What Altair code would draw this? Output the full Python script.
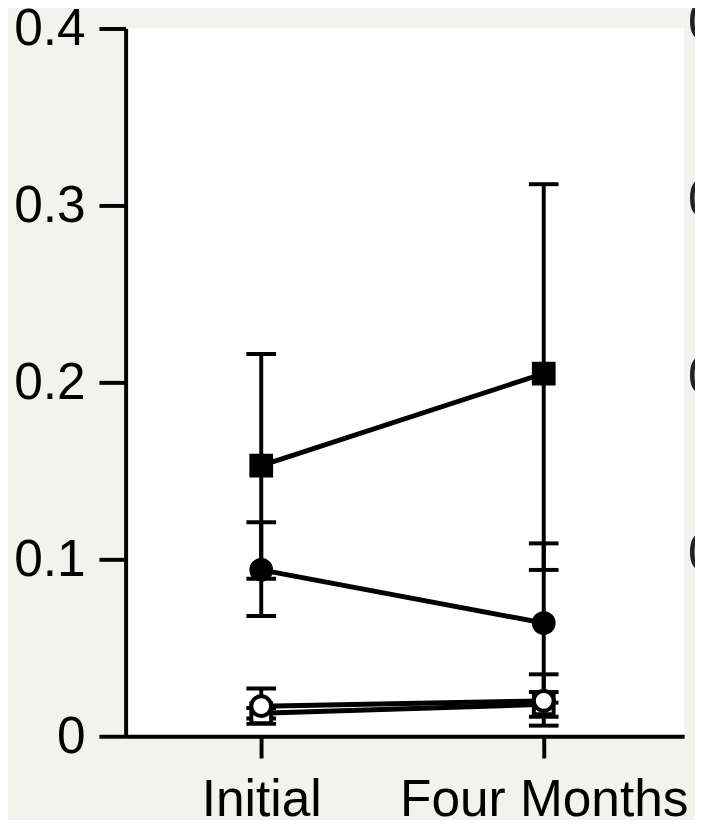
import altair as alt
import pandas as pd

# ---- data ----
categories = ["Initial", "Four Months"]
series = ["filled_square", "filled_circle", "open_square", "open_circle"]
series_shape = ["square", "circle", "square", "circle"]
series_fill = ["black", "black", "white", "white"]

mean_initial = [0.153, 0.094, 0.013, 0.017]
mean_four = [0.205, 0.064, 0.018, 0.020]
lo_initial = [0.089, 0.068, 0.010, 0.007]
hi_initial = [0.216, 0.121, 0.016, 0.027]
lo_four = [0.094, 0.019, 0.011, 0.006]
hi_four = [0.312, 0.109, 0.025, 0.035]

y_ticks = [0, 0.1, 0.2, 0.3, 0.4]
neighbor_labels = ["0.4", "0.3", "0.2", "0.1"]
neighbor_values = [0.4, 0.3, 0.2, 0.1]

rows = []
for i, s in enumerate(series):
    rows.append(dict(series=s, order=i, cat=categories[0], xi=1, mean=mean_initial[i],
                     lo=lo_initial[i], hi=hi_initial[i]))
    rows.append(dict(series=s, order=i, cat=categories[1], xi=2, mean=mean_four[i],
                     lo=lo_four[i], hi=hi_four[i]))
df = pd.DataFrame(rows)
nb = pd.DataFrame(dict(label=neighbor_labels, v=neighbor_values))

FONT = "Liberation Sans"
label_expr = "datum.value == 1 ? '%s' : '%s'" % (categories[0], categories[1])

x = alt.X("xi:Q", scale=alt.Scale(domain=[0.52, 2.497], nice=False, zero=False),
          axis=alt.Axis(values=[1, 2], labelExpr=label_expr, title=None, grid=False,
                        domainColor="black", domainWidth=4, tickColor="black",
                        tickWidth=4, tickSize=22, labelFont=FONT, labelFontSize=52,
                        labelColor="black", labelBaseline="alphabetic",
                        labelPadding=58, labelFlush=False, labelOverlap=False,
                        labelLimit=0))
y = alt.Y("mean:Q", scale=alt.Scale(domain=[0, 0.4], nice=False, zero=True),
          axis=alt.Axis(values=y_ticks, title=None, grid=False,
                        labelExpr="datum.value == 0 ? '0' : format(datum.value, '.1f')",
                        domainColor="black", domainWidth=4, tickColor="black",
                        tickWidth=4, tickSize=27, labelFont=FONT, labelFontSize=52,
                        labelColor="black", labelPadding=14, labelOverlap=False,
                        labelLimit=0))

base = alt.Chart(df)

err = base.mark_rule(color="black", strokeWidth=4).encode(
    x=x, y=alt.Y("lo:Q", scale=alt.Scale(domain=[0, 0.4], nice=False)), y2="hi:Q")
cap_lo = base.mark_tick(orient="horizontal", color="black", size=30, thickness=4,
                        opacity=1).encode(x=alt.X("xi:Q"), y=alt.Y("lo:Q"))
cap_hi = base.mark_tick(orient="horizontal", color="black", size=30, thickness=4,
                        opacity=1).encode(x=alt.X("xi:Q"), y=alt.Y("hi:Q"))
lines = base.mark_line(color="black", strokeWidth=5).encode(
    x=x, y=y, detail="series:N")
pts = base.mark_point(filled=False, stroke="black", strokeWidth=4, opacity=1).encode(
    x=alt.X("xi:Q"), y=alt.Y("mean:Q"),
    shape=alt.Shape("series:N", scale=alt.Scale(domain=series, range=series_shape), legend=None),
    fill=alt.Fill("series:N", scale=alt.Scale(domain=series, range=series_fill), legend=None),
    order=alt.Order("order:Q"),
    size=alt.value(400))

neighbor = alt.Chart(nb).mark_text(align="left", baseline="middle", font=FONT,
                                   fontSize=52, color="#222222", dy=-5).encode(
    x=alt.value(569), y=alt.Y("v:Q"), text="label:N")

chart = alt.layer(err, cap_lo, cap_hi, lines, pts, neighbor).properties(
    width=565, height=716,
    autosize=alt.AutoSizeParams(type="none"),
    padding={"left": 119, "top": 16, "right": 11, "bottom": 80},
    background="#f2f3ee",
).configure_view(fill="white", stroke=None)

chart.save("out.html", embed_options={"renderer": "svg", "actions": False})
